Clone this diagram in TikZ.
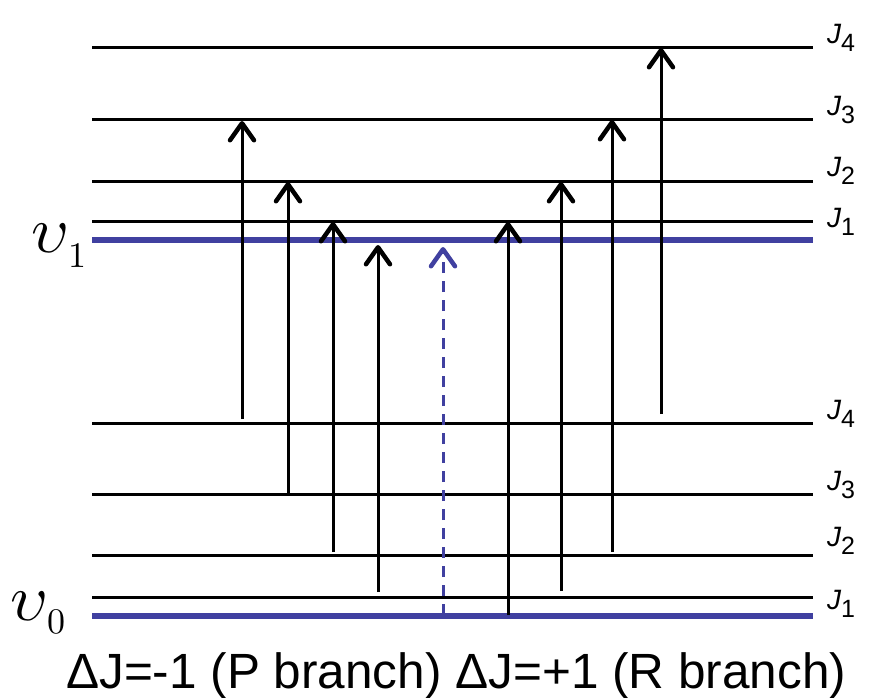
\documentclass[tikz,border=0pt]{standalone}
\usepackage{fontspec}
\setmainfont{Liberation Sans}
\usepackage{graphicx}
\usetikzlibrary{arrows.meta}
\definecolor{levelblue}{RGB}{64,64,160}
% rotational label J with an upright subscript
\newcommand\Jsub[1]{{\fontsize{28}{28}\selectfont\itshape J}\raisebox{-8pt}{\fontsize{25}{25}\selectfont\upshape #1}}
% vibrational label: large upsilon with a subscript
\newcommand\vibsub[2]{\scalebox{6.6}{$\upsilon$}\kern-1pt\raisebox{-#2}{\scalebox{3.6}{$#1$}}}

\begin{document}
\begin{tikzpicture}[x=1pt,y=-1pt,
  rlevel/.style={line width=3pt},
  vlevel/.style={line width=6pt, draw=levelblue},
  trans/.style={line width=3pt, -{Straight Barb[length=17pt,width=24pt,line width=4.5pt,round]}},
  forbidden/.style={trans, draw=levelblue, dash pattern=on 11pt off 8pt},
  jlab/.style={anchor=base west, inner sep=0pt},
  vlab/.style={anchor=base west, inner sep=0pt},
  caption/.style={anchor=base west, inner sep=0pt, font=\fontsize{49.5}{49.5}\selectfont},
]
\useasboundingbox (0,0) rectangle (869,697);

% level end points
\foreach \n/\y in {u4/47,u3/119,u2/181,u1/221,v1/240,l4/423,l3/494,l2/555,l1/597,v0/616}{
  \coordinate (\n L) at (92,\y);
  \coordinate (\n R) at (813,\y);
}

% rotational levels
\foreach \n in {u4,u3,u2,u1,l4,l3,l2,l1}{
  \draw[rlevel] (\n L) -- (\n R);
}
% vibrational ground levels
\draw[vlevel] (v1L) -- (v1R);
\draw[vlevel] (v0L) -- (v0R);

% transition end points
\coordinate (p4a) at (242,419); \coordinate (p4b) at (242,121);
\coordinate (p3a) at (288,493); \coordinate (p3b) at (288,182);
\coordinate (p2a) at (333,552); \coordinate (p2b) at (333,222);
\coordinate (p1a) at (378,592); \coordinate (p1b) at (378,245);
\coordinate (qa)  at (443,615); \coordinate (qb)  at (443,247);
\coordinate (r0a) at (508,615); \coordinate (r0b) at (508,222);
\coordinate (r1a) at (561,591); \coordinate (r1b) at (561,182);
\coordinate (r2a) at (612,552); \coordinate (r2b) at (612,120);
\coordinate (r3a) at (661,414); \coordinate (r3b) at (661,48);

% P branch
\draw[trans] (p4a) -- (p4b);
\draw[trans] (p3a) -- (p3b);
\draw[trans] (p2a) -- (p2b);
\draw[trans] (p1a) -- (p1b);
% forbidden Q transition
\draw[forbidden] (qa) -- (qb);
% R branch
\draw[trans] (r0a) -- (r0b);
\draw[trans] (r1a) -- (r1b);
\draw[trans] (r2a) -- (r2b);
\draw[trans] (r3a) -- (r3b);

% level labels
\node[jlab] (ju4) at (827,43)  {\Jsub{4}};
\node[jlab] (ju3) at (827,115) {\Jsub{3}};
\node[jlab] (ju2) at (827,176) {\Jsub{2}};
\node[jlab] (ju1) at (827,227) {\Jsub{1}};
\node[jlab] (jl4) at (827,419) {\Jsub{4}};
\node[jlab] (jl3) at (827,490) {\Jsub{3}};
\node[jlab] (jl2) at (827,546) {\Jsub{2}};
\node[jlab] (jl1) at (827,609) {\Jsub{1}};

\node[vlab] (vu) at (31,252) {\vibsub{1}{15pt}};
\node[vlab] (vl) at (10,620) {\vibsub{0}{13pt}};

\node[caption] (cap) at (66,688) {ΔJ=-1 (P branch) ΔJ=+1 (R branch)};
\end{tikzpicture}
\end{document}
